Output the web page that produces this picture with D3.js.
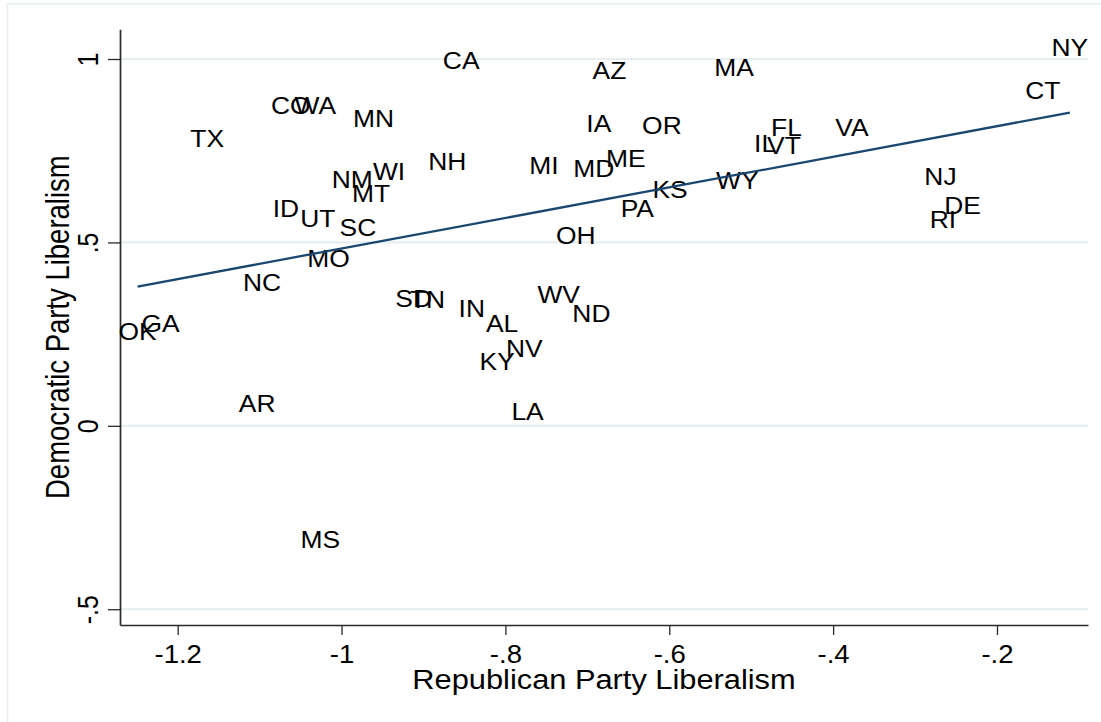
<!DOCTYPE html>
<html>
<head>
<meta charset="utf-8">
<script src="https://cdn.jsdelivr.net/npm/d3@7"></script>
<style>
  html, body { margin: 0; padding: 0; background: #ffffff; }
  svg { display: block; }
  text { font-family: "Liberation Sans", Arial, Helvetica, sans-serif; fill: #000; }
</style>
</head>
<body>
<svg id="chart" width="1101" height="722"></svg>
<script>
// State party liberalism scores
const states = ["CO","WA","MN","TX","NM","WI","MT","ID","UT","SC",
                "CA","AZ","MA","IA","OR","NH","MI","MD","ME","KS",
                "PA","OH","WY","FL","IL","VT","VA","NJ","DE","RI",
                "CT","NY","MO","NC","OK","GA","AR","MS","SD","TN",
                "IN","AL","WV","ND","NV","KY","LA"];
const repLib = [-1.062,-1.032,-0.961,-1.164,-0.987,-0.942,-0.964,-1.068,-1.029,-0.980,
                -0.854,-0.673,-0.521,-0.686,-0.609,-0.871,-0.753,-0.692,-0.653,-0.599,
                -0.639,-0.714,-0.517,-0.457,-0.483,-0.460,-0.377,-0.269,-0.242,-0.266,
                -0.144,-0.111,-1.016,-1.097,-1.249,-1.221,-1.103,-1.026,-0.912,-0.895,
                -0.841,-0.804,-0.735,-0.695,-0.777,-0.810,-0.773];
const demLib = [0.875,0.875,0.837,0.783,0.671,0.693,0.633,0.594,0.565,0.540,
                0.996,0.969,0.978,0.824,0.820,0.720,0.710,0.701,0.728,0.646,
                0.594,0.519,0.669,0.814,0.770,0.765,0.814,0.680,0.600,0.564,
                0.914,1.032,0.457,0.391,0.258,0.280,0.061,-0.310,0.348,0.344,
                0.321,0.278,0.359,0.307,0.212,0.175,0.040];

const xTicks = [-1.2, -1, -0.8, -0.6, -0.4, -0.2];
const xTickLabels = ["-1.2", "-1", "-.8", "-.6", "-.4", "-.2"];
const yTicks = [-0.5, 0, 0.5, 1];
const yTickLabels = ["-.5", "0", ".5", "1"];
const xTitle = "Republican Party Liberalism";
const yTitle = "Democratic Party Liberalism";

const svg = d3.select("#chart");
const plot = { left: 120, right: 1088, top: 29.3, bottom: 625 };
const stretch = 1.1; // glyph width factor

const x = d3.scaleLinear().domain([-1.2704, -0.0889]).range([plot.left, plot.right]);
const y = d3.scaleLinear().domain([-0.543, 1.081]).range([plot.bottom, plot.top]);

// outer frame
svg.append("rect")
  .attr("x", 7.5).attr("y", 3.8).attr("width", 1200).attr("height", 800)
  .attr("fill", "none").attr("stroke", "#e6eef1").attr("stroke-width", 1.6);

// horizontal grid lines
svg.append("g").selectAll("line").data(yTicks).join("line")
  .attr("x1", plot.left).attr("x2", plot.right)
  .attr("y1", d => y(d)).attr("y2", d => y(d))
  .attr("stroke", "#e6eef1").attr("stroke-width", 2.2);

// x axis
const xAxis = svg.append("g")
  .attr("transform", `translate(0,${plot.bottom})`)
  .call(d3.axisBottom(x).tickValues(xTicks).tickSize(10).tickSizeOuter(0)
        .tickFormat((d, i) => xTickLabels[i]));
xAxis.select(".domain").attr("stroke", "#2a2a2a").attr("stroke-width", 1.7);
xAxis.selectAll(".tick line").attr("stroke", "#2a2a2a").attr("stroke-width", 1.3);
xAxis.selectAll(".tick text")
  .attr("y", null).attr("dy", null).attr("x", null)
  .attr("transform", `translate(0,37.7) scale(${stretch},1)`)
  .attr("text-anchor", "middle")
  .style("font-size", "25px").style("font-family", null).attr("font-family", null).attr("fill", "#000");

// y axis
const yAxis = svg.append("g")
  .attr("transform", `translate(${plot.left},0)`)
  .call(d3.axisLeft(y).tickValues(yTicks).tickSize(12).tickSizeOuter(0)
        .tickFormat((d, i) => yTickLabels[i]));
yAxis.select(".domain").attr("stroke", "#2a2a2a").attr("stroke-width", 1.7);
yAxis.selectAll(".tick line").attr("stroke", "#2a2a2a").attr("stroke-width", 1.3);
yAxis.selectAll(".tick text")
  .attr("y", null).attr("dy", null).attr("x", null)
  .attr("transform", `translate(-21.7,0) scale(1.18,1) rotate(-90)`)
  .attr("text-anchor", "middle")
  .style("font-size", "25px").attr("font-family", null).attr("fill", "#000");
svg.selectAll(".tick text").attr("font-size", null);
svg.selectAll("g").attr("font-family", null).attr("font-size", null);

// axis titles
svg.append("text")
  .attr("transform", `translate(${(plot.left + plot.right) / 2},689.3) scale(${stretch},1)`)
  .attr("text-anchor", "middle").style("font-size", "28px").text(xTitle);
svg.append("text")
  .attr("transform", `translate(68.5,${(plot.top + plot.bottom) / 2}) scale(1.2,1) rotate(-90)`)
  .attr("text-anchor", "middle").style("font-size", "27.5px").text(yTitle);

// state labels centred on each point
const pts = states.map((s, i) => ({ s, rx: repLib[i], dy: demLib[i] }));
svg.append("g").selectAll("text").data(pts).join("text")
  .attr("transform", d => `translate(${x(d.rx)},${y(d.dy)}) scale(${stretch},1)`)
  .attr("dy", "0.36em")
  .attr("text-anchor", "middle")
  .style("font-size", "24px")
  .text(d => d.s);

// least-squares fit line over the observed range
const mx = d3.mean(repLib), my = d3.mean(demLib);
let sxy = 0, sxx = 0;
repLib.forEach((v, i) => { sxy += (v - mx) * (demLib[i] - my); sxx += (v - mx) * (v - mx); });
const slope = sxy / sxx, icpt = my - slope * mx;
const [xmin, xmax] = d3.extent(repLib);
const fit = [xmin, xmax].map(v => [v, icpt + slope * v]);
svg.append("path")
  .datum(fit)
  .attr("d", d3.line().x(d => x(d[0])).y(d => y(d[1])))
  .attr("fill", "none").attr("stroke", "#1a476f").attr("stroke-width", 2.3);
</script>
</body>
</html>
